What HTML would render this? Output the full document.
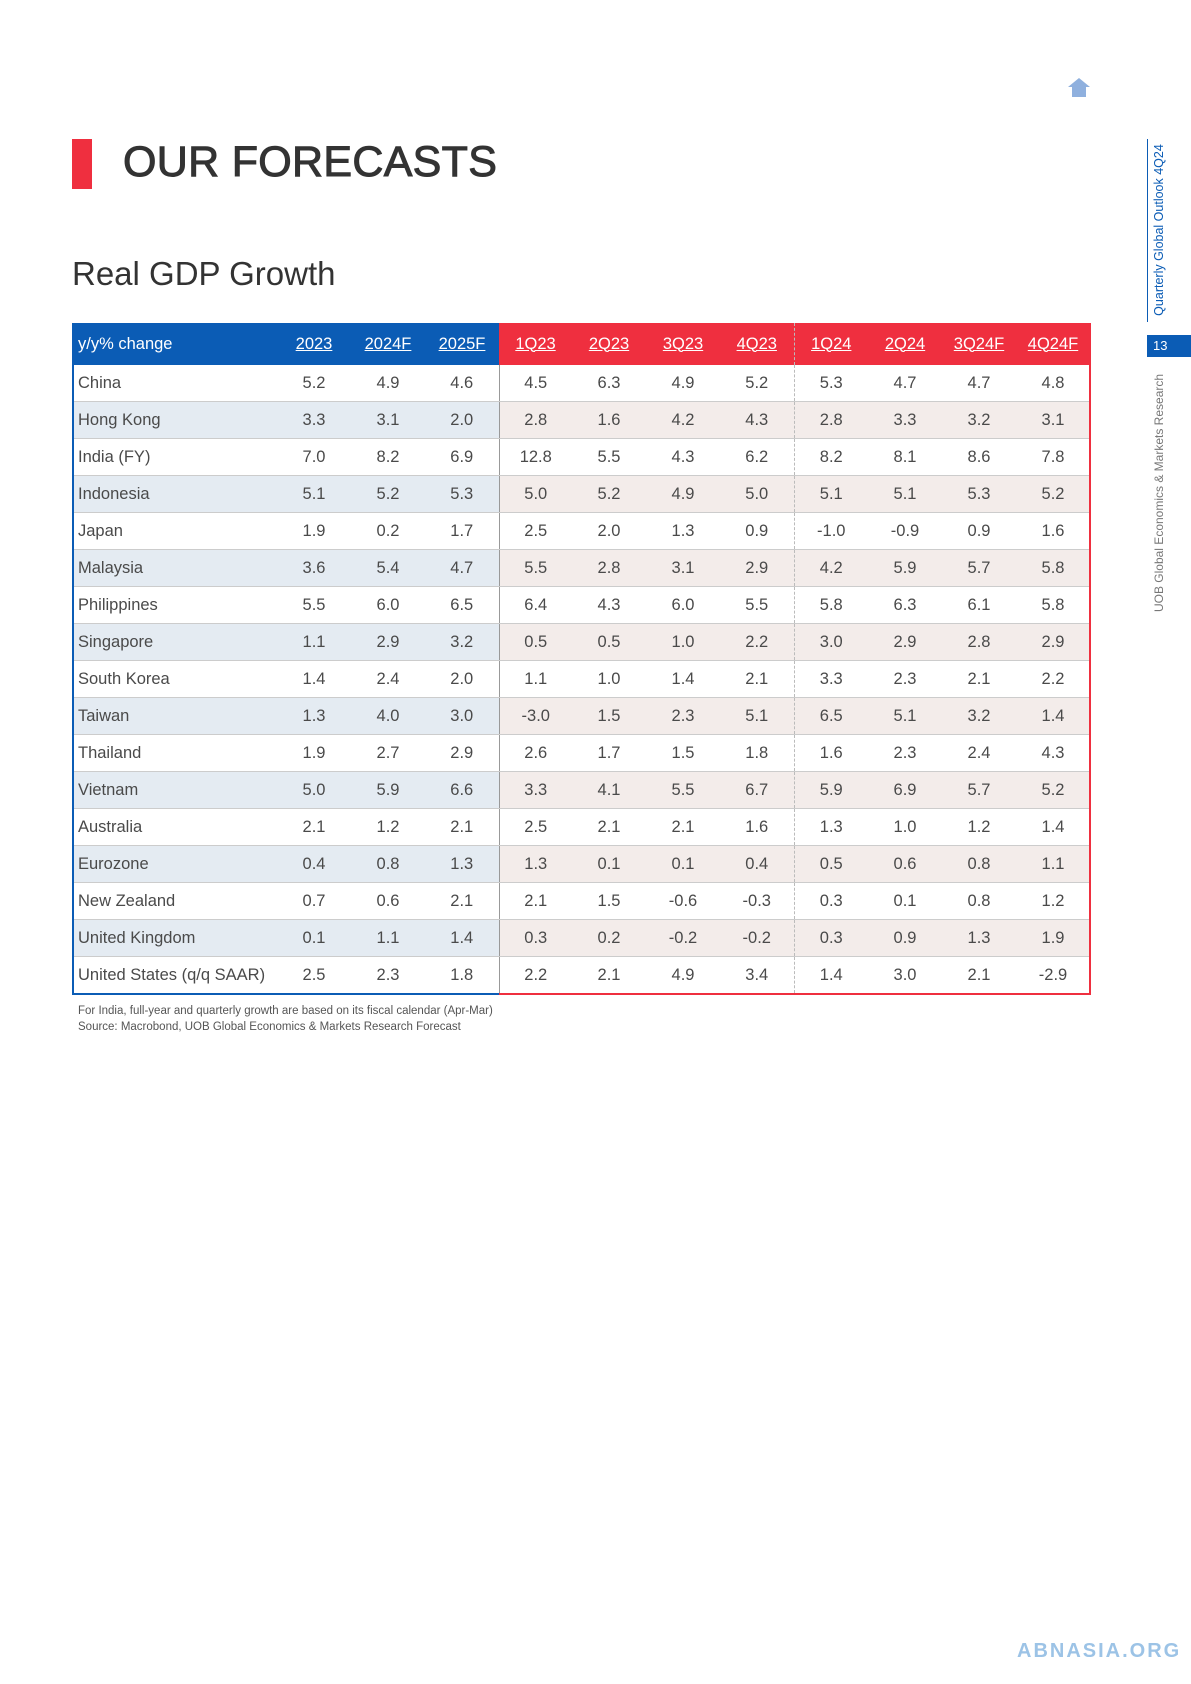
<!DOCTYPE html>
<html><head><meta charset="utf-8"><style>
body{margin:0;width:1191px;height:1684px;background:#fff;position:relative;overflow:hidden;font-family:"Liberation Sans",sans-serif;color:#444}
.abs{position:absolute}
table{position:absolute;left:72px;top:323px;border-collapse:collapse;table-layout:fixed;font-size:16.5px}
td,th{padding:0;text-align:center;font-weight:normal}
td{height:36px;border-bottom:1px solid #ccc;color:#4a4a4a}
tr:last-child td{border-bottom:none}
th{height:42px;color:#fff;text-decoration:underline}
td.l,th.l{text-align:left;padding-left:6px;text-decoration:none}
.hb{background:#0b5cb5}.hr{background:#ef2f3f}
tr.alt td.b{background:#e4ebf2}tr.alt td.r{background:#f3ecea}
.dv{border-left:1px solid #999}
.dd{border-left:1px dashed #bbb}
</style></head><body>
<div class="abs" style="left:1068px;top:78px;width:0;height:0;border-left:11px solid transparent;border-right:11px solid transparent;border-bottom:9px solid #8fb0de"></div>
<div class="abs" style="left:1072px;top:87px;width:14px;height:10px;background:#8fb0de"></div>
<div class="abs" style="left:72px;top:139px;width:20px;height:50px;background:#ef2f3f"></div>
<div class="abs" style="left:123px;top:138px;font-size:43px;color:#333;-webkit-text-stroke:1px #333;letter-spacing:0.3px">OUR FORECASTS</div>
<div class="abs" style="left:72px;top:255px;font-size:33px;color:#333">Real GDP Growth</div>
<div class="abs" style="left:1147px;top:139px;width:1px;height:183px;background:#0b5cb5"></div>
<div class="abs" style="left:1159px;top:230px;transform:translate(-50%,-50%) rotate(-90deg);white-space:nowrap;font-size:12.5px;color:#0b5cb5">Quarterly Global Outlook 4Q24</div>
<div class="abs" style="left:1147px;top:335px;width:44px;height:22px;background:#0b5cb5;color:#fff;font-size:13px;line-height:22px;padding-left:6px;box-sizing:border-box">13</div>
<div class="abs" style="left:1159px;top:493px;transform:translate(-50%,-50%) rotate(-90deg);white-space:nowrap;font-size:12px;color:#777">UOB Global Economics &amp; Markets Research</div>

<table>
<colgroup><col style="width:205px"><col style="width:74px"><col style="width:74px"><col style="width:74px"><col style="width:73px"><col style="width:74px"><col style="width:74px"><col style="width:74px"><col style="width:74px"><col style="width:74px"><col style="width:74px"><col style="width:74px"><col style="width:74px"></colgroup>
<tbody id="tb"></tbody></table>
<div class="abs" style="left:72px;top:323px;width:2px;height:671px;background:#0b5cb5"></div>
<div class="abs" style="left:72px;top:993px;width:427px;height:2px;background:#0b5cb5"></div>
<div class="abs" style="left:499px;top:993px;width:592px;height:2px;background:#ef2f3f"></div>
<div class="abs" style="left:1089px;top:323px;width:2px;height:671px;background:#ef2f3f"></div>
<div class="abs" style="left:78px;top:1003px;font-size:11.5px;line-height:16px;color:#555">For India, full-year and quarterly growth are based on its fiscal calendar (Apr-Mar)<br>Source: Macrobond, UOB Global Economics &amp; Markets Research Forecast</div>
<div class="abs" style="left:1017px;top:1640px;font-size:20px;font-weight:bold;color:#9cc3e6;letter-spacing:2px">ABNASIA.ORG</div>
<script>
const headers=["2023","2024F","2025F","1Q23","2Q23","3Q23","4Q23","1Q24","2Q24","3Q24F","4Q24F"];
const countries=["China","Hong Kong","India (FY)","Indonesia","Japan","Malaysia","Philippines","Singapore","South Korea","Taiwan","Thailand","Vietnam","Australia","Eurozone","New Zealand","United Kingdom","United States (q/q SAAR)"];
const values=[
["5.2","4.9","4.6","4.5","6.3","4.9","5.2","5.3","4.7","4.7","4.8"],
["3.3","3.1","2.0","2.8","1.6","4.2","4.3","2.8","3.3","3.2","3.1"],
["7.0","8.2","6.9","12.8","5.5","4.3","6.2","8.2","8.1","8.6","7.8"],
["5.1","5.2","5.3","5.0","5.2","4.9","5.0","5.1","5.1","5.3","5.2"],
["1.9","0.2","1.7","2.5","2.0","1.3","0.9","-1.0","-0.9","0.9","1.6"],
["3.6","5.4","4.7","5.5","2.8","3.1","2.9","4.2","5.9","5.7","5.8"],
["5.5","6.0","6.5","6.4","4.3","6.0","5.5","5.8","6.3","6.1","5.8"],
["1.1","2.9","3.2","0.5","0.5","1.0","2.2","3.0","2.9","2.8","2.9"],
["1.4","2.4","2.0","1.1","1.0","1.4","2.1","3.3","2.3","2.1","2.2"],
["1.3","4.0","3.0","-3.0","1.5","2.3","5.1","6.5","5.1","3.2","1.4"],
["1.9","2.7","2.9","2.6","1.7","1.5","1.8","1.6","2.3","2.4","4.3"],
["5.0","5.9","6.6","3.3","4.1","5.5","6.7","5.9","6.9","5.7","5.2"],
["2.1","1.2","2.1","2.5","2.1","2.1","1.6","1.3","1.0","1.2","1.4"],
["0.4","0.8","1.3","1.3","0.1","0.1","0.4","0.5","0.6","0.8","1.1"],
["0.7","0.6","2.1","2.1","1.5","-0.6","-0.3","0.3","0.1","0.8","1.2"],
["0.1","1.1","1.4","0.3","0.2","-0.2","-0.2","0.3","0.9","1.3","1.9"],
["2.5","2.3","1.8","2.2","2.1","4.9","3.4","1.4","3.0","2.1","-2.9"]];
const tb=document.getElementById('tb');
function cls(j){return (j<3?'b':'r')+(j==3?' dv':'')+(j==7?' dd':'');}
let h='<tr><th class="l hb">y/y% change</th>';
headers.forEach((t,j)=>{h+=`<th class="${j<3?'hb':'hr'}${j==7?' dd':''}">${t}</th>`;});
h+='</tr>';
countries.forEach((c,i)=>{
 const slug=c.toLowerCase().replace(/[^a-z0-9]+/g,'-').replace(/-$/,'');
 h+=`<tr class="${i%2?'alt':''}"><td class="l b">${c}</td>`;
 values[i].forEach((v,j)=>{h+=`<td class="${cls(j)}">${v}</td>`;});
 h+='</tr>';
});
tb.innerHTML=h;
</script>
</body></html>
